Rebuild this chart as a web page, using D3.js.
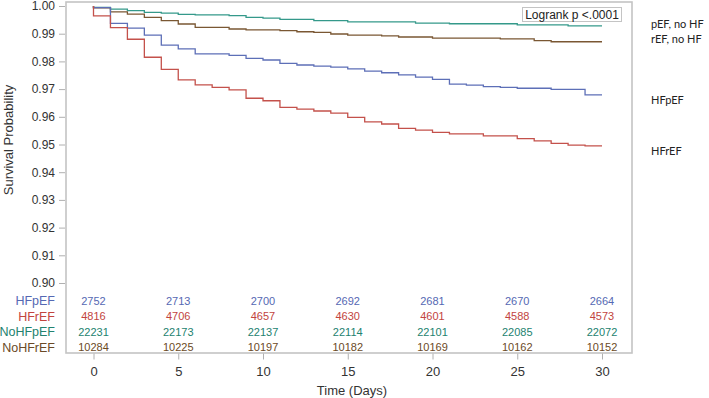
<!DOCTYPE html>
<html>
<head>
<meta charset="utf-8">
<script src="https://cdn.jsdelivr.net/npm/d3@7"></script>
<style>
  body { margin: 0; background: #fff; }
  svg { display: block; }
</style>
</head>
<body>
<script>
// survival by day (value after that day's events)
var days = [0,1,2,3,4,5,6,7,8,9,10,11,12,13,14,15,16,17,18,19,20,21,22,23,24,25,26,27,28,29,30]
var hfpef = [0.9994,0.9937,0.9920,0.9895,0.9859,0.9845,0.9827,0.9827,0.9822,0.9811,0.9805,0.9793,0.9787,0.9783,0.9779,0.9773,0.9765,0.9759,0.9751,0.9743,0.9735,0.9718,0.9714,0.9709,0.9706,0.9703,0.9703,0.9699,0.9699,0.9679,0.9679]
var hfref = [0.9964,0.9922,0.9880,0.9815,0.9771,0.9733,0.9715,0.9706,0.9697,0.9667,0.9658,0.9634,0.9628,0.9621,0.9613,0.9598,0.9582,0.9574,0.9558,0.9552,0.9544,0.9538,0.9538,0.9531,0.9531,0.9521,0.9513,0.9504,0.9498,0.9495,0.9495]
var nohfpef = [0.9995,0.9989,0.9983,0.9977,0.9974,0.9970,0.9968,0.9968,0.9965,0.9959,0.9956,0.9952,0.9952,0.9947,0.9947,0.9943,0.9943,0.9943,0.9943,0.9938,0.9938,0.9936,0.9936,0.9936,0.9936,0.9932,0.9932,0.9932,0.9928,0.9928,0.9928]
var nohfref = [0.9993,0.9979,0.9971,0.9959,0.9947,0.9935,0.9923,0.9923,0.9917,0.9914,0.9914,0.9911,0.9907,0.9905,0.9899,0.9895,0.9895,0.9892,0.9888,0.9888,0.9884,0.9884,0.9884,0.9884,0.9881,0.9881,0.9875,0.9871,0.9871,0.9871,0.9871]

// numbers at risk
var riskDays = [0,5,10,15,20,25,30]
var riskHFpEF = [2752,2713,2700,2692,2681,2670,2664]
var riskHFrEF = [4816,4706,4657,4630,4601,4588,4573]
var riskNoHFpEF = [22231,22173,22137,22114,22101,22085,22072]
var riskNoHFrEF = [10284,10225,10197,10182,10169,10162,10152]

var groupNames = ["HFpEF","HFrEF","NoHFpEF","NoHFrEF"]
var xTicks = [0,5,10,15,20,25,30]
var yTicks = [0.90,0.91,0.92,0.93,0.94,0.95,0.96,0.97,0.98,0.99,1.00]
var sideLabels = ["pEF, no HF","rEF, no HF","HFpEF","HFrEF"]

window.onload = function() {
    var width = 709
    var height = 398
    var font = "'Liberation Sans', Arial, sans-serif"

    var colors = { "HFpEF": "#5d6fb7", "HFrEF": "#c4514b", "NoHFpEF": "#34998a", "NoHFrEF": "#7a5733" }
    var textColors = { "HFpEF": "#5568b3", "HFrEF": "#c2443e", "NoHFpEF": "#23826f", "NoHFrEF": "#6b4a26" }

    var frame = { left: 66, right: 632, top: 2, bottom: 353 }

    var x = d3.scaleLinear().domain([0, 30]).range([93.5, 602])
    var y = d3.scaleLinear().domain([0.90, 1.00]).range([283, 6])

    var svg = d3.select("body")
                .append("svg")
                .attr("width", width)
                .attr("height", height)
                .style("font-family", font)

    // frame
    svg.append("rect")
       .attr("x", frame.left)
       .attr("y", frame.top)
       .attr("width", frame.right - frame.left)
       .attr("height", frame.bottom - frame.top)
       .attr("fill", "none")
       .attr("stroke", "#c4c4c4")
       .attr("stroke-width", 1.6)

    // y axis (ticks only, the frame is the axis line)
    var yAxis = d3.axisLeft(y)
                  .tickValues(yTicks)
                  .tickFormat(d3.format(".2f"))
                  .tickSize(6)
                  .tickPadding(4)
    var gy = svg.append("g")
                .attr("transform", "translate(" + (frame.left - 1) + ",0)")
                .call(yAxis)
    gy.select(".domain").remove()
    gy.selectAll(".tick line").attr("stroke", "#b0b0b0")
    gy.selectAll(".tick text")
      .attr("fill", "#333")
      .style("font-size", "12px")
      .style("font-family", font)

    // x axis below the frame
    var xAxis = d3.axisBottom(x)
                  .tickValues(xTicks)
                  .tickSize(6)
                  .tickPadding(7)
    var gx = svg.append("g")
                .attr("transform", "translate(0," + (frame.bottom + 0.5) + ")")
                .call(xAxis)
    gx.select(".domain").remove()
    gx.selectAll(".tick line").attr("stroke", "#b0b0b0")
    gx.selectAll(".tick text")
      .attr("fill", "#333")
      .style("font-size", "13px")
      .style("font-family", font)

    svg.append("text")
       .attr("x", (frame.left + frame.right) / 2 + 3)
       .attr("y", 395)
       .attr("text-anchor", "middle")
       .attr("fill", "#333")
       .style("font-size", "13px")
       .text("Time (Days)")

    svg.append("text")
       .attr("transform", "translate(13," + 140 + ") rotate(-90)")
       .attr("text-anchor", "middle")
       .attr("fill", "#333")
       .style("font-size", "13px")
       .text("Survival Probability")

    // survival curves
    var series = [
        { name: "NoHFpEF", values: nohfpef },
        { name: "NoHFrEF", values: nohfref },
        { name: "HFpEF", values: hfpef },
        { name: "HFrEF", values: hfref }
    ]
    var line = d3.line()
                 .x(function(d) { return x(d.t) })
                 .y(function(d) { return y(d.s) })
                 .curve(d3.curveStepAfter)

    series.forEach(function(sr) {
        var pts = [{ t: 0, s: 1 }]
        days.forEach(function(t, i) { pts.push({ t: t, s: sr.values[i] }) })
        svg.append("path")
           .datum(pts)
           .attr("d", line)
           .attr("fill", "none")
           .attr("stroke", colors[sr.name])
           .attr("stroke-width", 1.3)
    })

    // logrank box
    var box = svg.append("g")
    box.append("rect")
       .attr("x", 522.5)
       .attr("y", 7.5)
       .attr("width", 99)
       .attr("height", 14)
       .attr("fill", "#fff")
       .attr("stroke", "#c4c4c4")
    box.append("text")
       .attr("x", 572)
       .attr("y", 18.5)
       .attr("text-anchor", "middle")
       .attr("fill", "#222")
       .style("font-size", "12px")
       .text("Logrank p <.0001")

    // at-risk table
    var riskRows = [riskHFpEF, riskHFrEF, riskNoHFpEF, riskNoHFrEF]
    var rowY = d3.scalePoint().domain(groupNames).range([301, 347.5])
    groupNames.forEach(function(g, i) {
        svg.append("text")
           .attr("x", 55)
           .attr("y", rowY(g))
           .attr("dy", "0.35em")
           .attr("text-anchor", "end")
           .attr("fill", textColors[g])
           .style("font-size", "12.5px")
           .text(g)
        svg.selectAll(".risk" + i)
           .data(riskRows[i])
           .enter()
           .append("text")
           .attr("x", function(d, j) { return x(riskDays[j]) })
           .attr("y", rowY(g))
           .attr("dy", "0.35em")
           .attr("text-anchor", "middle")
           .attr("fill", textColors[g])
           .style("font-size", "11px")
           .text(function(d) { return d })
    })

    // labels at the right, outside the frame
    var sideY = [28, 43, 104, 155]
    svg.selectAll(".side")
       .data(sideLabels)
       .enter()
       .append("text")
       .attr("x", 651)
       .attr("y", function(d, i) { return sideY[i] })
       .attr("fill", "#222")
       .style("font-family", "Lato, 'Open Sans', sans-serif")
       .style("font-size", "11px")
       .text(function(d) { return d })
}
</script>
</body>
</html>
